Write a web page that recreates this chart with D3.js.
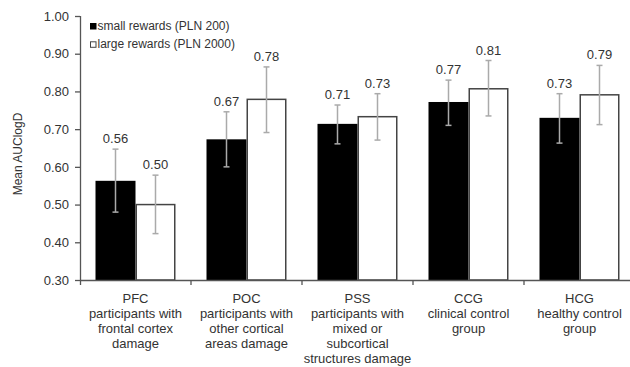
<!DOCTYPE html>
<html>
<head>
<meta charset="utf-8">
<script src="https://cdn.jsdelivr.net/npm/d3@7"></script>
<style>
  body { margin: 0; background: #fff; }
  text { font-family: "Liberation Sans", Arial, sans-serif; fill: #333; }
</style>
</head>
<body>
<script>
// groups on the x axis (code + description lines)
var groups = ["PFC", "POC", "PSS", "CCG", "HCG"];
var groupLines = [
  ["PFC", "participants with", "frontal cortex", "damage"],
  ["POC", "participants with", "other cortical", "areas damage"],
  ["PSS", "participants with", "mixed or", "subcortical", "structures damage"],
  ["CCG", "clinical control", "group"],
  ["HCG", "healthy control", "group"]
];
var seriesNames = ["small rewards (PLN 200)", "large rewards (PLN 2000)"];

// means and error bar ends
var smallMean = [0.563, 0.673, 0.714, 0.772, 0.730];
var smallLow  = [0.480, 0.600, 0.661, 0.710, 0.663];
var smallHigh = [0.647, 0.746, 0.764, 0.830, 0.794];
var largeMean = [0.500, 0.779, 0.733, 0.807, 0.791];
var largeLow  = [0.423, 0.691, 0.671, 0.735, 0.712];
var largeHigh = [0.578, 0.865, 0.794, 0.882, 0.869];
var smallLabels = ["0.56", "0.67", "0.71", "0.77", "0.73"];
var largeLabels = ["0.50", "0.78", "0.73", "0.81", "0.79"];
var yTicks = [0.30, 0.40, 0.50, 0.60, 0.70, 0.80, 0.90, 1.00];

var width = 630, height = 367;
var plotLeft = 80, plotRight = 635, plotTop = 16, plotBottom = 280;

var svg = d3.select("body").append("svg")
  .attr("width", width)
  .attr("height", height);

var x = d3.scaleBand().domain(groups).range([plotLeft, plotRight]).paddingInner(0).paddingOuter(0);
var inner = d3.scaleBand().domain([0, 1]).range([15.5, x.bandwidth() - 15.5]).padding(0);
var y = d3.scaleLinear().domain([0.3, 1.0]).range([plotBottom, plotTop]);

var rows = [];
groups.forEach(function(g, i) {
  rows.push({g: g, s: 0, v: smallMean[i], lo: smallLow[i], hi: smallHigh[i], lab: smallLabels[i]});
  rows.push({g: g, s: 1, v: largeMean[i], lo: largeLow[i], hi: largeHigh[i], lab: largeLabels[i]});
});

// bars
svg.append("g").selectAll("rect")
  .data(rows)
  .enter().append("rect")
  .attr("x", function(d) { return x(d.g) + inner(d.s) + (d.s ? 0.75 : 0); })
  .attr("y", function(d) { return y(d.v); })
  .attr("width", function(d) { return inner.bandwidth() - (d.s ? 1.5 : 0); })
  .attr("height", function(d) { return y(0.3) - y(d.v); })
  .attr("fill", function(d) { return d.s ? "#fff" : "#000"; })
  .attr("stroke", function(d) { return d.s ? "#444" : "none"; })
  .attr("stroke-width", 1.5);

// error bars
var err = svg.append("g").selectAll("g")
  .data(rows)
  .enter().append("g")
  .attr("stroke", "#aaa")
  .attr("stroke-width", 1.5);
function cx(d) { return x(d.g) + inner(d.s) + inner.bandwidth() / 2; }
err.append("line")
  .attr("x1", cx).attr("x2", cx)
  .attr("y1", function(d) { return y(d.lo); })
  .attr("y2", function(d) { return y(d.hi); });
err.append("line")
  .attr("x1", function(d) { return cx(d) - 3; }).attr("x2", function(d) { return cx(d) + 3; })
  .attr("y1", function(d) { return y(d.hi); }).attr("y2", function(d) { return y(d.hi); });
err.append("line")
  .attr("x1", function(d) { return cx(d) - 3; }).attr("x2", function(d) { return cx(d) + 3; })
  .attr("y1", function(d) { return y(d.lo); }).attr("y2", function(d) { return y(d.lo); });

// value labels
svg.append("g").selectAll("text")
  .data(rows)
  .enter().append("text")
  .attr("x", cx)
  .attr("y", function(d) { return y(d.hi) - 6; })
  .attr("text-anchor", "middle")
  .style("font-size", "13px")
  .text(function(d) { return d.lab; });

// y axis
var yAxis = svg.append("g")
  .attr("transform", "translate(" + plotLeft + ",0)")
  .call(d3.axisLeft(y).tickValues(yTicks).tickFormat(d3.format(".2f")).tickSizeOuter(0).tickSize(5).tickPadding(6));
yAxis.selectAll("text").style("font-size", "13px").attr("fill", "#333");
yAxis.select(".domain").attr("stroke", "#555").attr("stroke-width", 1.3)
  .attr("d", "M0.5," + plotTop + "V" + (plotBottom + 5));
yAxis.selectAll(".tick line").attr("stroke", "#555").attr("stroke-width", 1.3);

// x axis
var xAxis = svg.append("g")
  .attr("transform", "translate(0," + plotBottom + ")");
xAxis.append("line")
  .attr("x1", plotLeft).attr("x2", plotRight)
  .attr("y1", 0.5).attr("y2", 0.5)
  .attr("stroke", "#555").attr("stroke-width", 1.3);
xAxis.selectAll(".sep")
  .data(groups.slice(1))
  .enter().append("line")
  .attr("x1", function(d) { return x(d); }).attr("x2", function(d) { return x(d); })
  .attr("y1", 0).attr("y2", 5)
  .attr("stroke", "#555").attr("stroke-width", 1.3);

// category labels
var cat = svg.append("g").selectAll("text")
  .data(groupLines)
  .enter().append("text")
  .attr("text-anchor", "middle")
  .style("font-size", "13px")
  .attr("transform", function(d, i) { return "translate(" + (x(groups[i]) + x.bandwidth() / 2) + ",302.5)"; });
cat.selectAll("tspan")
  .data(function(d) { return d; })
  .enter().append("tspan")
  .attr("x", 0)
  .attr("y", function(d, i) { return i * 15.2; })
  .text(function(d) { return d; });

// y title
svg.append("text")
  .attr("transform", "translate(22,154) rotate(-90)")
  .attr("text-anchor", "middle")
  .style("font-size", "12px")
  .text("Mean AUClogD");

// legend
var leg = svg.append("g").selectAll("g")
  .data(seriesNames)
  .enter().append("g")
  .attr("transform", function(d, i) { return "translate(90," + (21.5 + i * 18.3) + ")"; });
leg.append("rect")
  .attr("x", 0.5).attr("y", 2)
  .attr("width", 5.5).attr("height", 5.5)
  .attr("fill", function(d, i) { return i ? "#fff" : "#000"; })
  .attr("stroke", function(d, i) { return i ? "#444" : "#000"; })
  .attr("stroke-width", 1);
leg.append("text")
  .attr("x", 7.5).attr("y", 8)
  .style("font-size", "12px")
  .text(function(d) { return d; });
</script>
</body>
</html>
